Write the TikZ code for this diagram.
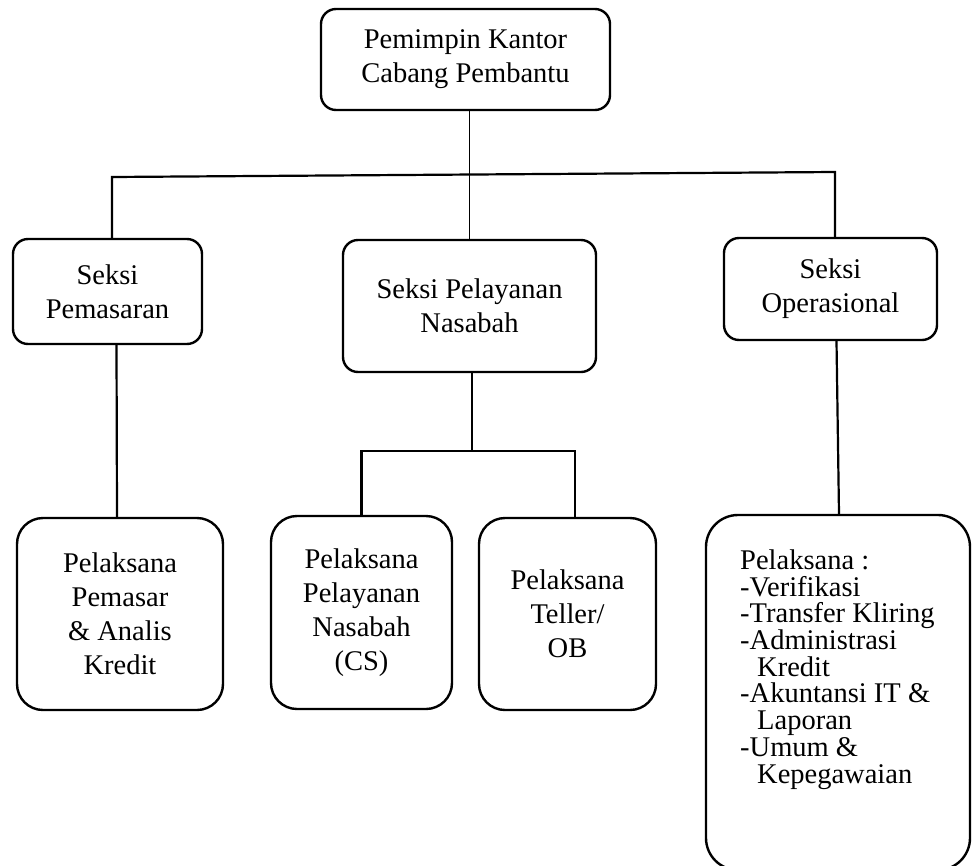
\documentclass[tikz,border=0pt]{standalone}
\usepackage{fontspec}
\setmainfont{Liberation Serif}
\usetikzlibrary{positioning}
\tikzset{
  unit/.style={draw, line width=2.4pt, rounded corners=15pt, align=center,
    font=\fontsize{28.5}{34}\selectfont, inner sep=0pt},
  staff/.style={unit, rounded corners=26pt},
  link/.style={line width=2.2pt}
}
\begin{document}
\begin{tikzpicture}[x=1pt,y=-1pt]
% 972 x 865 = size of the page
\useasboundingbox (0,0) rectangle (972,865);
\clip (0,0) rectangle (972,865);
% top level
\node[unit, minimum width=289pt, minimum height=101pt] (pimpinan) at (465.5,59.5)
  {Pemimpin Kantor\\Cabang Pembantu};
% sections
\node[unit, minimum width=189pt, minimum height=105pt] (pemasaran) at (107.5,291.5)
  {Seksi\\Pemasaran};
\node[unit, minimum width=253pt, minimum height=132pt] (pelayanan) at (469.5,306)
  {Seksi Pelayanan\\Nasabah};
\node[unit, minimum width=213pt, minimum height=102pt] (operasional) at (830.5,289)
  {Seksi\\Operasional};
% staff
\node[staff, minimum width=206pt, minimum height=192pt] (pemasar) at (120,614)
  {Pelaksana\\Pemasar\\\& Analis\\Kredit};
\node[staff, minimum width=181pt, minimum height=193pt] (cs) at (361.5,612.5)
  {Pelaksana\\Pelayanan\\Nasabah\\(CS)};
\node[staff, minimum width=177pt, minimum height=192pt] (teller) at (567.5,614)
  {Pelaksana\\Teller/\\OB};
\node[staff, rounded corners=32pt, minimum width=264pt, minimum height=355pt] (opsbox) at (838,692.5) {};
% 740 = left edge of the list, 549.5 = top of its first line
\node[anchor=north west, inner sep=0pt, align=left,
  font=\fontsize{28.5}{26.7}\selectfont] (opslist) at (740,549.5)
  {Pelaksana :\\-Verifikasi\\-Transfer Kliring\\-Administrasi\\\hspace*{17pt}Kredit\\
   -Akuntansi IT \&\\\hspace*{17pt}Laporan\\-Umum \&\\\hspace*{17pt}Kepegawaian};
% connectors
\coordinate (barL) at (112,177);
\coordinate (barR) at (835,172);
\coordinate (split) at (472,451);
\coordinate (tellertop) at ([xshift=7.5pt]teller.north);
\draw[line width=1.5pt] (pelayanan.north |- pimpinan.south) -- (pelayanan.north);
\draw[link] (barL |- pemasaran.north) -- (barL) -- (barR) -- (barR |- operasional.north);
\draw[link] ([xshift=9pt]pemasaran.south) -- ([xshift=-3pt]pemasar.north);
\draw[link] ([xshift=2.5pt]pelayanan.south) -- (split);
\draw[link] (cs.north) -- (cs.north |- split) -- (tellertop |- split) -- (tellertop);
\draw[link] ([xshift=6pt]operasional.south) -- ([xshift=1pt]opsbox.north);
\end{tikzpicture}
\end{document}
